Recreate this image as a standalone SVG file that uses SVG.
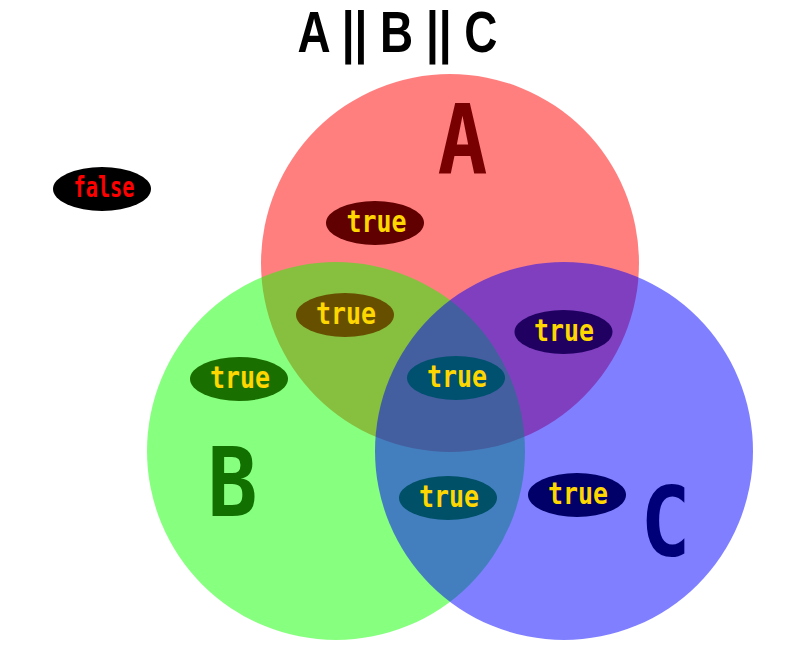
<svg xmlns="http://www.w3.org/2000/svg" width="789" height="672" viewBox="0 0 789 672">
<style>
.circ{fill-opacity:0.5;stroke:none}
.lbl{font-family:"DejaVu Sans Mono","Liberation Mono",monospace;font-weight:bold;text-anchor:middle}
.ttl{font-family:"Liberation Sans",Arial,sans-serif;font-weight:bold;text-anchor:middle;font-size:58px;fill:#000000}
.val{font-size:30px;fill:#ffd700}
.big{font-size:96px}
.pill{stroke:none}
</style>
<rect width="789" height="672" fill="#ffffff"/>
<g id="title"><text class="ttl" x="397.5" y="52" textLength="200" lengthAdjust="spacingAndGlyphs">A || B || C</text></g>
<g id="circleA"><circle class="circ" cx="450" cy="263" r="189" fill="#ff0000"/></g>
<g id="circleB"><circle class="circ" cx="336" cy="451" r="189" fill="#10ff00"/></g>
<g id="circleC"><circle class="circ" cx="564" cy="451" r="189" fill="#0000ff"/></g>
<g id="labelA"><text class="lbl big" x="462.5" y="173" fill="#780000" textLength="50" lengthAdjust="spacingAndGlyphs">A</text></g>
<g id="labelB"><text class="lbl big" x="232.5" y="516" fill="#127000" textLength="50" lengthAdjust="spacingAndGlyphs">B</text></g>
<g id="labelC"><text class="lbl big" x="665.5" y="556" fill="#000078" textLength="50" lengthAdjust="spacingAndGlyphs">C</text></g>
<g id="none"><ellipse class="pill" cx="102" cy="189" rx="49" ry="22" fill="#000000"/><text class="lbl" font-size="29" fill="#ff0000" x="104" y="197" textLength="61" lengthAdjust="spacingAndGlyphs">false</text></g>
<g id="onlyA"><ellipse class="pill" cx="375" cy="223" rx="49" ry="22" fill="#600000"/><text class="lbl val" x="376.5" y="232" textLength="60" lengthAdjust="spacingAndGlyphs">true</text></g>
<g id="AB"><ellipse class="pill" cx="345" cy="315" rx="49" ry="22" fill="#665000"/><text class="lbl val" x="346" y="324" textLength="60" lengthAdjust="spacingAndGlyphs">true</text></g>
<g id="onlyB"><ellipse class="pill" cx="239" cy="379" rx="49" ry="22" fill="#197000"/><text class="lbl val" x="240" y="388" textLength="60" lengthAdjust="spacingAndGlyphs">true</text></g>
<g id="ABC"><ellipse class="pill" cx="456" cy="378" rx="49" ry="22" fill="#005070"/><text class="lbl val" x="457" y="387" textLength="60" lengthAdjust="spacingAndGlyphs">true</text></g>
<g id="AC"><ellipse class="pill" cx="563.5" cy="332" rx="49" ry="22" fill="#200060"/><text class="lbl val" x="564" y="341" textLength="60" lengthAdjust="spacingAndGlyphs">true</text></g>
<g id="BC"><ellipse class="pill" cx="448" cy="498" rx="49" ry="22" fill="#005068"/><text class="lbl val" x="449" y="507" textLength="60" lengthAdjust="spacingAndGlyphs">true</text></g>
<g id="onlyC"><ellipse class="pill" cx="577" cy="495" rx="49" ry="22" fill="#000068"/><text class="lbl val" x="578" y="504" textLength="60" lengthAdjust="spacingAndGlyphs">true</text></g>
<g id="connectors"></g>
</svg>
